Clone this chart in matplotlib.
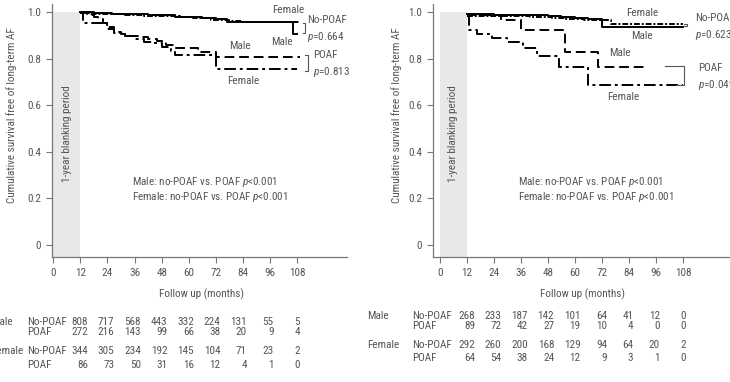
import matplotlib.pyplot as plt
from matplotlib import font_manager as fm

# pick the narrowest sans family that is installed
names = {f.name for f in fm.fontManager.ttflist}
cond = {f.name for f in fm.fontManager.ttflist if 'condensed' in str(f.stretch) or 'narrow' in f.fname.lower()}
if 'Liberation Sans Narrow' in names:
    plt.rcParams['font.family'] = ['Liberation Sans Narrow', 'DejaVu Sans']
elif 'Roboto Condensed' in names:
    plt.rcParams['font.family'] = ['Roboto Condensed', 'DejaVu Sans']
elif 'DejaVu Sans' in cond:
    plt.rcParams['font.family'] = ['DejaVu Sans']
    plt.rcParams['font.stretch'] = 'condensed'
elif 'Liberation Sans' in names:
    plt.rcParams['font.family'] = ['Liberation Sans', 'DejaVu Sans']
plt.rcParams['mathtext.fontset'] = 'custom'
plt.rcParams['mathtext.it'] = plt.rcParams['font.family'][0] + ':italic'

# ---- data ----
xticks = [0, 12, 24, 36, 48, 60, 72, 84, 96, 108]
yticks = [0, 0.2, 0.4, 0.6, 0.8, 1.0]
ytick_labels = ['0', '0.2', '0.4', '0.6', '0.8', '1.0']

# left panel curves (months, survival)
l_male_nopoaf_t = [12, 18, 26, 34, 42, 48, 54, 60, 66, 72, 77, 106, 108]
l_male_nopoaf_s = [1.0, 0.997, 0.995, 0.993, 0.99, 0.987, 0.982, 0.978, 0.975, 0.97, 0.958, 0.907, 0.907]
l_female_nopoaf_t = [12, 16, 24, 32, 40, 48, 56, 62, 70, 78, 84, 109]
l_female_nopoaf_s = [0.996, 0.994, 0.991, 0.989, 0.986, 0.983, 0.979, 0.974, 0.968, 0.962, 0.958, 0.958]
l_male_poaf_t = [12, 15, 18, 20, 22, 24, 27, 30, 34, 38, 42, 46, 50, 54, 64, 72, 109]
l_male_poaf_s = [1.0, 0.99, 0.98, 0.97, 0.955, 0.937, 0.915, 0.905, 0.9, 0.895, 0.885, 0.875, 0.86, 0.847, 0.83, 0.808, 0.808]
l_female_poaf_t = [12, 13, 24, 27, 32, 36, 40, 44, 48, 52, 54, 72, 108]
l_female_poaf_s = [1.0, 0.953, 0.93, 0.912, 0.9, 0.887, 0.872, 0.867, 0.85, 0.835, 0.816, 0.757, 0.757]

# right panel curves
r_male_nopoaf_t = [12, 24, 36, 48, 54, 60, 66, 72, 108]
r_male_nopoaf_s = [0.992, 0.99, 0.988, 0.985, 0.978, 0.975, 0.972, 0.937, 0.937]
r_female_nopoaf_t = [12, 20, 30, 40, 50, 56, 64, 76, 108]
r_female_nopoaf_s = [0.986, 0.985, 0.983, 0.98, 0.977, 0.972, 0.968, 0.95, 0.95]
r_male_poaf_t = [12, 27, 36, 55.5, 70.4, 91]
r_male_poaf_s = [0.99, 0.967, 0.924, 0.83, 0.765, 0.765]
r_female_poaf_t = [12, 13, 16.4, 23, 30, 37, 43, 53, 66, 108]
r_female_poaf_s = [0.985, 0.924, 0.907, 0.89, 0.872, 0.847, 0.812, 0.765, 0.688, 0.688]

# numbers at risk
groups = ['Male', '', 'Female', '']
arms = ['No-POAF', 'POAF', 'No-POAF', 'POAF']
l_risk = [
    [808, 717, 568, 443, 332, 224, 131, 55, 5],
    [272, 216, 143, 99, 66, 38, 20, 9, 4],
    [344, 305, 234, 192, 145, 104, 71, 23, 2],
    [86, 73, 50, 31, 16, 12, 4, 1, 0],
]
r_risk = [
    [268, 233, 187, 142, 101, 64, 41, 12, 0],
    [89, 72, 42, 27, 19, 10, 4, 0, 0],
    [292, 260, 200, 168, 129, 94, 64, 20, 2],
    [64, 54, 38, 24, 12, 9, 3, 1, 0],
]

GRAY = '#555555'
W, H = 730, 382
fig = plt.figure(figsize=(W / 100, H / 100), dpi=100)

# font size chosen so that the x label is about as wide as in the reference
renderer = fig.canvas.get_renderer()
probe = fig.text(0, 0, 'Follow up (months)', fontsize=10)
pw = probe.get_window_extent(renderer).width
probe.remove()
FS = min(8.5, 10 * 85 / pw)


def fx(x):
    return x / W


def fy(y):
    return 1 - y / H


def setup(ax, xlim, label_x):
    ax.set_xlim(*xlim)
    ax.set_ylim(-0.052, 1.036)
    ax.fill_between([0, 12], -0.052, 1.0, color='#e8e8e8', lw=0, zorder=0)
    ax.text(6, 0.48, '1-year blanking period', rotation=90, ha='center', va='center',
            fontsize=FS, color=GRAY)
    for s in ['top', 'right']:
        ax.spines[s].set_visible(False)
    for s in ['left', 'bottom']:
        ax.spines[s].set_color('#777777')
        ax.spines[s].set_linewidth(0.9)
    ax.set_xticks(xticks)
    ax.set_yticks(yticks)
    ax.set_yticklabels(ytick_labels)
    ax.tick_params(direction='out', length=4, color='#777777', labelcolor=GRAY,
                   labelsize=FS, pad=4)
    ax.set_ylabel('Cumulative survival free of long-term AF', fontsize=FS, color=GRAY)
    ax.yaxis.set_label_coords(label_x, 0.56)


def curves(ax, mn, fn, mp, fp):
    ax.step(mn[0], mn[1], where='post', color='black', lw=1.4)
    ax.step(fn[0], fn[1], where='post', color='black', lw=1.4, dashes=(3, 1, 1, 1))
    ax.step(mp[0], mp[1], where='post', color='black', lw=1.4, dashes=(5, 2.5))
    ax.step(fp[0], fp[1], where='post', color='black', lw=1.4, dashes=(6, 2, 1.5, 2))


def note(ax, x, y, s, ha='center'):
    ax.text(x, y, s, ha=ha, va='center', fontsize=FS, color=GRAY)


# ---- left panel ----
ax1 = fig.add_axes([fx(52), fy(257), fx(295), 253 / H])
setup(ax1, (-0.5, 130), -0.12)
curves(ax1, (l_male_nopoaf_t, l_male_nopoaf_s), (l_female_nopoaf_t, l_female_nopoaf_s),
       (l_male_poaf_t, l_male_poaf_s), (l_female_poaf_t, l_female_poaf_s))
note(ax1, 104, 1.01, 'Female')
note(ax1, 112.5, 0.967, 'No-POAF', 'left')
ax1.plot([110.5, 111.5, 111.5, 110.5], [0.955, 0.955, 0.911, 0.911], color=GRAY, lw=0.8)
note(ax1, 112.5, 0.894, '$p$=0.664', 'left')
note(ax1, 101.3, 0.872, 'Male')
note(ax1, 82.7, 0.855, 'Male')
note(ax1, 114.8, 0.818, 'POAF', 'left')
ax1.plot([111.5, 112.8, 112.8, 111.5], [0.816, 0.816, 0.748, 0.748], color=GRAY, lw=0.8)
note(ax1, 114.8, 0.743, '$p$=0.813', 'left')
note(ax1, 84, 0.705, 'Female')
note(ax1, 35, 0.27, 'Male: no-POAF vs. POAF $p$<0.001', 'left')
note(ax1, 35, 0.206, 'Female: no-POAF vs. POAF $p$<0.001', 'left')

# ---- right panel ----
ax2 = fig.add_axes([fx(433), fy(257), fx(297), 253 / H])
setup(ax2, (-3.1, 128.9), -0.105)
curves(ax2, (r_male_nopoaf_t, r_male_nopoaf_s), (r_female_nopoaf_t, r_female_nopoaf_s),
       (r_male_poaf_t, r_male_poaf_s), (r_female_poaf_t, r_female_poaf_s))
note(ax2, 89.8, 0.997, 'Female')
note(ax2, 113.3, 0.975, 'No-POAF', 'left')
ax2.plot([108.5, 110, 110, 108.5], [0.952, 0.952, 0.94, 0.94], color=GRAY, lw=0.8)
note(ax2, 113.3, 0.902, '$p$=0.623', 'left')
note(ax2, 89.8, 0.9, 'Male')
note(ax2, 80, 0.825, 'Male')
ax2.plot([100, 108.5, 108.5, 105], [0.768, 0.768, 0.688, 0.688], color=GRAY, lw=0.8)
note(ax2, 114.7, 0.76, 'POAF', 'left')
note(ax2, 114.7, 0.688, '$p$=0.049', 'left')
note(ax2, 81.3, 0.636, 'Female')
note(ax2, 34.7, 0.272, 'Male: no-POAF vs. POAF $p$<0.001', 'left')
note(ax2, 34.7, 0.208, 'Female: no-POAF vs. POAF $p$<0.001', 'left')

# ---- x labels and numbers at risk ----
fig.text(fx(202), fy(294), 'Follow up (months)', ha='center', va='center', fontsize=FS, color=GRAY)
fig.text(fx(583), fy(294), 'Follow up (months)', ha='center', va='center', fontsize=FS, color=GRAY)


def risk_table(table, group_x, label_x, right0, step, rows_y):
    for grp, arm, vals, y in zip(groups, arms, table, rows_y):
        if grp:
            fig.text(fx(group_x), fy(y), grp, ha='left', va='center', fontsize=FS, color=GRAY)
        fig.text(fx(label_x), fy(y), arm, ha='left', va='center', fontsize=FS, color=GRAY)
        for i, v in enumerate(vals):
            fig.text(fx(right0 + i * step), fy(y), str(v), ha='right', va='center',
                     fontsize=FS, color=GRAY)


risk_table(l_risk, -9, 27, 88, 26.5, [322, 332, 351, 365])
risk_table(r_risk, 367, 412, 475, 26.4, [316, 326, 345, 358])

fig.savefig('out.png', dpi=100)
